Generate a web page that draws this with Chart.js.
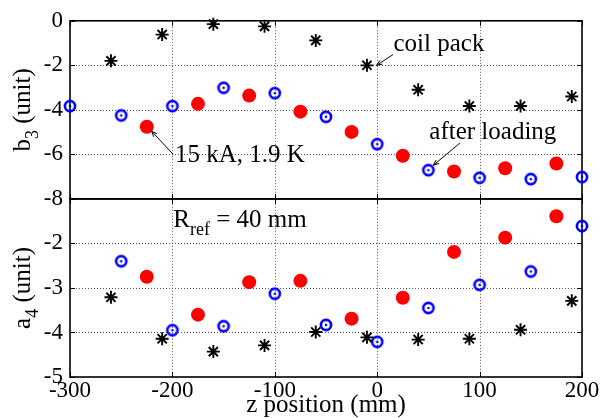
<!DOCTYPE html>
<html>
<head>
<meta charset="utf-8">
<script src="https://cdn.jsdelivr.net/npm/chart.js@4/dist/chart.umd.min.js"></script>
<style>
html,body{margin:0;padding:0;background:#fff;}
#wrap{position:relative;width:601px;height:418px;}
</style>
</head>
<body>
<div id="wrap"><canvas id="c" width="601" height="418"></canvas></div>
<script>
// ---- data ----
const zCoil  = [-260, -210, -160, -110, -60, -10, 40, 90, 140, 190];
const zAfter = [-300, -250, -200, -150, -100, -50, 0, 50, 100, 150, 200];
const zHot   = [-225, -175, -125, -75, -25, 25, 75, 125, 175];
const zAfterA4 = [-250, -200, -150, -100, -50, 0, 50, 100, 150, 200];

const b3Coil  = [-1.8, -0.62, -0.15, -0.25, -0.88, -2.0, -3.1, -3.83, -3.83, -3.4];
const b3After = [-3.83, -4.25, -3.83, -3.01, -3.25, -4.31, -5.54, -6.71, -7.05, -7.11, -7.02];
const b3Hot   = [-4.76, -3.73, -3.36, -4.08, -4.99, -6.06, -6.77, -6.62, -6.41];

const a4Coil  = [-3.21, -4.14, -4.43, -4.29, -3.99, -4.11, -4.16, -4.14, -3.94, -3.29];
const a4After = [-2.40, -3.95, -3.86, -3.13, -3.83, -4.21, -3.45, -2.93, -2.63, -1.61];
const a4Hot   = [-2.75, -3.60, -2.87, -2.84, -3.69, -3.22, -2.19, -1.87, -1.39];

const xTicks   = [-300, -200, -100, 0, 100, 200];
const b3Ticks  = [0, -2, -4, -6, -8];
const a4Ticks  = [-1, -2, -3, -4, -5];

const FONT = 'Liberation Serif';

function pts(xs, ys){ return xs.map((x,i)=>({x:x, y:ys[i]})); }

function ringMarker(){
  const c = document.createElement('canvas');
  c.width = 18; c.height = 18;
  const g = c.getContext('2d');
  g.strokeStyle = '#0000ff'; g.lineWidth = 2.6;
  g.beginPath(); g.arc(9, 9, 5.1, 0, Math.PI*2); g.stroke();
  g.fillStyle = '#0000ff';
  g.beginPath(); g.arc(9, 9, 1.3, 0, Math.PI*2); g.fill();
  return c;
}
const ring = ringMarker();

function coilDs(data, axis){
  return {data, yAxisID: axis, showLine:false, pointStyle:'star', pointRadius:6.5,
    borderColor:'#000', backgroundColor:'#000', pointBorderWidth:1.9, borderWidth:1.9, clip:false};
}
function afterDs(data, axis){
  return {data, yAxisID: axis, showLine:false, pointStyle: ring, pointRadius:6,
    borderColor:'#0000ff', backgroundColor:'#0000ff', clip:false};
}
function hotDs(data, axis){
  return {data, yAxisID: axis, showLine:false, pointStyle:'circle', pointRadius:7,
    borderWidth:0, pointBorderWidth:0, borderColor:'#ff0000', backgroundColor:'#ff0000', clip:false};
}

const tickFont = {family: FONT, size: 23};

function yScale(ticksArr, stackWeight, hideVal){
  return {
    type:'linear', position:'left', stack:'panels', stackWeight: stackWeight,
    min: Math.min(...ticksArr), max: Math.max(...ticksArr),
    afterBuildTicks: (s)=>{ s.ticks = ticksArr.map(v=>({value:v})); },
    afterFit: (s)=>{ s.width = 70; },
    ticks:{ font: tickFont, color:'#000', padding:7, autoSkip:false,
      callback: (v)=> (v === hideVal ? '' : String(v)) },
    grid:{ display:false, drawTicks:false },
    border:{ display:false }
  };
}

const annot = {
  coil:  {text:'coil pack',    tx:15.9, ty:-1.34, ax0:15.4, ay0:-1.52, ax1:-0.6, ay1:-2.0},
  after: {text:'after loading', tx:50.9, ty:-5.30, ax0:80.8, ay0:-5.49, ax1:54.8, ay1:-6.49},
  hot:   {text:'15 kA, 1.9 K',  tx:-197.5, ty:-6.34, ax0:-199.2, ay0:-6.0, ax1:-220.3, ay1:-4.96}
};

function drawArrow(ctx, x0, y0, x1, y1){
  ctx.beginPath(); ctx.moveTo(x0,y0); ctx.lineTo(x1,y1); ctx.stroke();
  const ang = Math.atan2(y1-y0, x1-x0), L = 6, w = 0.38;
  ctx.beginPath();
  ctx.moveTo(x1 - L*Math.cos(ang - w), y1 - L*Math.sin(ang - w));
  ctx.lineTo(x1, y1);
  ctx.lineTo(x1 - L*Math.cos(ang + w), y1 - L*Math.sin(ang + w));
  ctx.stroke();
}

// parts: [text, isSub]
function drawParts(ctx, x, y, parts, size, align){
  let total = 0;
  const widths = parts.map(([t,sub])=>{
    ctx.font = (sub ? size*0.72 : size) + 'px "' + FONT + '"';
    const w = ctx.measureText(t).width; total += w; return w;
  });
  let cx = align === 'center' ? x - total/2 : x;
  parts.forEach(([t,sub],i)=>{
    ctx.font = (sub ? size*0.72 : size) + 'px "' + FONT + '"';
    ctx.fillText(t, cx, y + (sub ? size*0.3 : 0));
    cx += widths[i];
  });
}

const panelPlugin = {
  id:'panels',
  beforeDatasetsDraw(chart){
    const {ctx, chartArea:a, scales} = chart;
    const xs = scales.x;
    ctx.save();
    // dotted grid
    ctx.strokeStyle = '#555'; ctx.lineWidth = 1; ctx.setLineDash([1,2]);
    ctx.beginPath();
    xTicks.slice(1, -1).forEach(v=>{
      const px = Math.round(xs.getPixelForValue(v)) + 0.5;
      ctx.moveTo(px, a.top); ctx.lineTo(px, a.bottom);
    });
    for (const id of ['yTop','yBot']){
      const s = scales[id];
      s.ticks.slice(1, -1).forEach(t=>{
        const py = Math.round(s.getPixelForValue(t.value)) + 0.5;
        ctx.moveTo(a.left, py); ctx.lineTo(a.right, py);
      });
    }
    ctx.stroke();
    ctx.setLineDash([]);
    ctx.strokeStyle = '#000';
    for (const id of ['yTop','yBot']){
      const s = scales[id];
      // inward tick marks
      ctx.lineWidth = 1;
      ctx.beginPath();
      xTicks.forEach(v=>{
        const px = Math.round(xs.getPixelForValue(v)) + 0.5;
        ctx.moveTo(px, s.bottom); ctx.lineTo(px, s.bottom-5);
        ctx.moveTo(px, s.top); ctx.lineTo(px, s.top+5);
      });
      s.ticks.forEach(t=>{
        const py = Math.round(s.getPixelForValue(t.value)) + 0.5;
        ctx.moveTo(a.left, py); ctx.lineTo(a.left+5, py);
        ctx.moveTo(a.right, py); ctx.lineTo(a.right-5, py);
      });
      ctx.stroke();
      ctx.lineWidth = 1.6;
      ctx.strokeRect(a.left, s.top, a.right-a.left, s.bottom-s.top);
    }
    ctx.restore();
  },
  afterDraw(chart){
    const {ctx, chartArea:a, scales} = chart;
    const xs = scales.x, yt = scales.yTop, yb = scales.yBot;
    ctx.save();
    ctx.fillStyle = '#000'; ctx.strokeStyle = '#000';
    ctx.textBaseline = 'alphabetic'; ctx.textAlign = 'left';
    // axis titles
    drawParts(ctx, (a.left+a.right)/2, 412, [['z position (mm)', false]], 25, 'center');
    for (const [s, parts] of [[yt, [['b',false],['3',true],[' (unit)',false]]],
                              [yb, [['a',false],['4',true],[' (unit)',false]]]]){
      ctx.save();
      ctx.translate(30, (s.top+s.bottom)/2);
      ctx.rotate(-Math.PI/2);
      drawParts(ctx, 0, 0, parts, 25, 'center');
      ctx.restore();
    }
    // annotations
    ctx.lineWidth = 1;
    for (const k of Object.keys(annot)){
      const an = annot[k];
      ctx.font = '25px "' + FONT + '"';
      ctx.fillText(an.text, xs.getPixelForValue(an.tx), yt.getPixelForValue(an.ty));
      drawArrow(ctx, xs.getPixelForValue(an.ax0), yt.getPixelForValue(an.ay0),
                     xs.getPixelForValue(an.ax1), yt.getPixelForValue(an.ay1));
    }
    drawParts(ctx, xs.getPixelForValue(-199.1), yb.getPixelForValue(-1.634),
      [['R',false],['ref',true],[' = 40 mm',false]], 25, 'left');
    ctx.restore();
  }
};

new Chart(document.getElementById('c'), {
  type:'scatter',
  data:{ datasets:[
    coilDs(pts(zCoil, b3Coil), 'yTop'),
    afterDs(pts(zAfter, b3After), 'yTop'),
    hotDs(pts(zHot, b3Hot), 'yTop'),
    coilDs(pts(zCoil, a4Coil), 'yBot'),
    afterDs(pts(zAfterA4, a4After), 'yBot'),
    hotDs(pts(zHot, a4Hot), 'yBot')
  ]},
  options:{
    responsive:false, animation:false, devicePixelRatio:1,
    layout:{ padding:{ top:19, right:19, left:0, bottom:0 } },
    plugins:{ legend:{display:false}, tooltip:{enabled:false} },
    scales:{
      x:{ type:'linear', position:'bottom', min:-300, max:200,
        afterBuildTicks:(s)=>{ s.ticks = xTicks.map(v=>({value:v})); },
        afterFit:(s)=>{ s.height = 41; },
        ticks:{ font: tickFont, color:'#000', padding:0, maxRotation:0, autoSkip:false },
        grid:{ display:false, drawTicks:false },
        border:{ display:false }
      },
      yBot: yScale(a4Ticks, 1, -1),
      yTop: yScale(b3Ticks, 1, null)
    }
  },
  plugins:[panelPlugin]
});
</script>
</body>
</html>
